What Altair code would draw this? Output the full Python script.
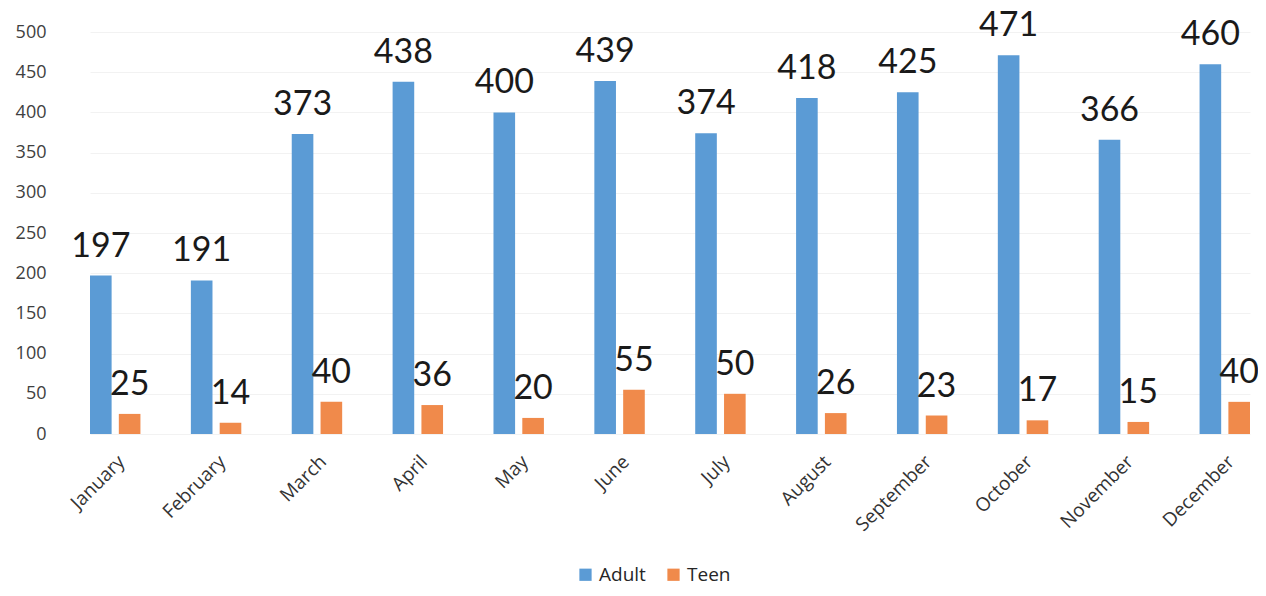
import altair as alt
import pandas as pd

months = ["January", "February", "March", "April", "May", "June", "July",
          "August", "September", "October", "November", "December"]
adult = [197, 191, 373, 438, 400, 439, 374, 418, 425, 471, 366, 460]
teen = [25, 14, 40, 36, 20, 55, 50, 26, 23, 17, 15, 40]
series = ["Adult", "Teen"]
colors = ["#5B9BD5", "#F08A4B"]

rows = []
for m, a, t in zip(months, adult, teen):
    rows.append({"month": m, "series": "Adult", "value": a})
    rows.append({"month": m, "series": "Teen", "value": t})
df = pd.DataFrame(rows)

x = alt.X("month:N", sort=months, title=None,
          scale=alt.Scale(paddingInner=0.5, paddingOuter=0),
          axis=alt.Axis(labelAngle=-45, labelAlign="right", labelBaseline="top",
                        labelFontSize=19, labelColor="#333333", labelFont="Open Sans",
                        domain=False, ticks=False, labelPadding=18))
xo = alt.XOffset("series:N", sort=series,
                 scale=alt.Scale(paddingInner=0.25, paddingOuter=0))
y = alt.Y("value:Q", title=None,
          scale=alt.Scale(domain=[0, 500], nice=False),
          axis=alt.Axis(values=list(range(0, 501, 50)), domain=False, ticks=False,
                        labelFontSize=18, labelColor="#404040", labelFont="Open Sans",
                        labelPadding=44, gridColor="#f2f2f2"))
color = alt.Color("series:N", sort=series,
                  scale=alt.Scale(domain=series, range=colors),
                  legend=alt.Legend(title=None, orient="none", direction="horizontal",
                                    legendX=486, legendY=533, symbolType="square",
                                    symbolSize=150, symbolStrokeWidth=0,
                                    labelFontSize=19, labelFont="Open Sans",
                                    labelColor="#262626", columnPadding=18))

bars = alt.Chart(df).mark_bar().encode(x=x, xOffset=xo, y=y, color=color)
labels = alt.Chart(df).mark_text(fontSize=34, font="Lato", dy=-19,
                                 baseline="alphabetic", color="#1a1a1a").encode(
    x=alt.X("month:N", sort=months), xOffset=alt.XOffset("series:N", sort=series),
    y="value:Q", text="value:Q")

chart = alt.layer(bars, labels).properties(
    width=1160, height=402,
    autosize=alt.AutoSizeParams(type="none"),
    padding={"left": 82, "top": 24, "right": 8, "bottom": 154},
).configure_view(stroke=None)

chart.save("out.html", embed_options={"renderer": "svg", "actions": False})
